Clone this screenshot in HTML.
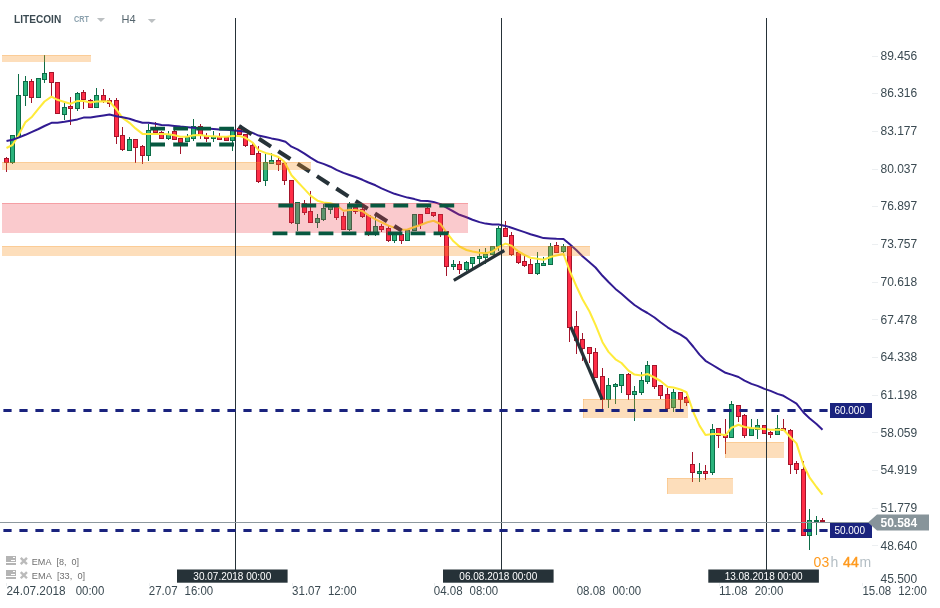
<!DOCTYPE html><html><head><meta charset="utf-8"><title>LITECOIN H4</title>
<style>html,body{margin:0;padding:0;background:#fff}body{width:940px;height:608px;overflow:hidden;font-family:"Liberation Sans",sans-serif}svg{display:block}text{font-family:"Liberation Sans",sans-serif}</style></head><body><div style="will-change:transform;width:940px;height:608px">
<svg width="940" height="608" viewBox="0 0 940 608">
<rect width="940" height="608" fill="#fff"/>
<g shape-rendering="crispEdges">
<rect x="6.0" y="157" width="1" height="15" fill="#a3152b"/>
<rect x="4.0" y="158" width="5" height="5" fill="#a3152b"/>
<rect x="5.0" y="159" width="3" height="3" fill="#ff2d47"/>
<rect x="12.0" y="135" width="1" height="29" fill="#0d6d47"/>
<rect x="10.0" y="135" width="5" height="28" fill="#0d6d47"/>
<rect x="11.0" y="136" width="3" height="26" fill="#2bb37c"/>
<rect x="18.0" y="74" width="1" height="63" fill="#0d6d47"/>
<rect x="16.0" y="95" width="5" height="42" fill="#0d6d47"/>
<rect x="17.0" y="96" width="3" height="40" fill="#2bb37c"/>
<rect x="25.0" y="76" width="1" height="30" fill="#0d6d47"/>
<rect x="23.0" y="81" width="5" height="15" fill="#0d6d47"/>
<rect x="24.0" y="82" width="3" height="13" fill="#2bb37c"/>
<rect x="31.0" y="79" width="1" height="24" fill="#a3152b"/>
<rect x="29.0" y="81" width="5" height="17" fill="#a3152b"/>
<rect x="30.0" y="82" width="3" height="15" fill="#ff2d47"/>
<rect x="38.0" y="78" width="1" height="20" fill="#0d6d47"/>
<rect x="36.0" y="78" width="5" height="20" fill="#0d6d47"/>
<rect x="37.0" y="79" width="3" height="18" fill="#2bb37c"/>
<rect x="44.0" y="55" width="1" height="28" fill="#0d6d47"/>
<rect x="42.0" y="73" width="5" height="7" fill="#0d6d47"/>
<rect x="43.0" y="74" width="3" height="5" fill="#2bb37c"/>
<rect x="51.0" y="72" width="1" height="24" fill="#a3152b"/>
<rect x="49.0" y="72" width="5" height="11" fill="#a3152b"/>
<rect x="50.0" y="73" width="3" height="9" fill="#ff2d47"/>
<rect x="57.0" y="82" width="1" height="32" fill="#a3152b"/>
<rect x="55.0" y="82" width="5" height="32" fill="#a3152b"/>
<rect x="56.0" y="83" width="3" height="30" fill="#ff2d47"/>
<rect x="64.0" y="103" width="1" height="17" fill="#0d6d47"/>
<rect x="62.0" y="107" width="5" height="8" fill="#0d6d47"/>
<rect x="63.0" y="108" width="3" height="6" fill="#2bb37c"/>
<rect x="70.0" y="97" width="1" height="28" fill="#a3152b"/>
<rect x="68.0" y="106" width="5" height="3" fill="#a3152b"/>
<rect x="69.0" y="107" width="3" height="1" fill="#ff2d47"/>
<rect x="77.0" y="92" width="1" height="19" fill="#0d6d47"/>
<rect x="75.0" y="93" width="5" height="16" fill="#0d6d47"/>
<rect x="76.0" y="94" width="3" height="14" fill="#2bb37c"/>
<rect x="83.0" y="90" width="1" height="19" fill="#a3152b"/>
<rect x="81.0" y="92" width="5" height="8" fill="#a3152b"/>
<rect x="82.0" y="93" width="3" height="6" fill="#ff2d47"/>
<rect x="90.0" y="99" width="1" height="9" fill="#a3152b"/>
<rect x="88.0" y="100" width="5" height="8" fill="#a3152b"/>
<rect x="89.0" y="101" width="3" height="6" fill="#ff2d47"/>
<rect x="96.0" y="88" width="1" height="20" fill="#0d6d47"/>
<rect x="94.0" y="95" width="5" height="13" fill="#0d6d47"/>
<rect x="95.0" y="96" width="3" height="11" fill="#2bb37c"/>
<rect x="103.0" y="89" width="1" height="14" fill="#a3152b"/>
<rect x="101.0" y="95" width="5" height="6" fill="#a3152b"/>
<rect x="102.0" y="96" width="3" height="4" fill="#ff2d47"/>
<rect x="109.0" y="98" width="1" height="9" fill="#a3152b"/>
<rect x="107.0" y="100" width="5" height="4" fill="#a3152b"/>
<rect x="108.0" y="101" width="3" height="2" fill="#ff2d47"/>
<rect x="116.0" y="98" width="1" height="46" fill="#a3152b"/>
<rect x="114.0" y="100" width="5" height="37" fill="#a3152b"/>
<rect x="115.0" y="101" width="3" height="35" fill="#ff2d47"/>
<rect x="122.0" y="127" width="1" height="24" fill="#a3152b"/>
<rect x="120.0" y="135" width="5" height="15" fill="#a3152b"/>
<rect x="121.0" y="136" width="3" height="13" fill="#ff2d47"/>
<rect x="129.0" y="137" width="1" height="14" fill="#0d6d47"/>
<rect x="127.0" y="139" width="5" height="12" fill="#0d6d47"/>
<rect x="128.0" y="140" width="3" height="10" fill="#2bb37c"/>
<rect x="135.0" y="139" width="1" height="24" fill="#a3152b"/>
<rect x="133.0" y="139" width="5" height="9" fill="#a3152b"/>
<rect x="134.0" y="140" width="3" height="7" fill="#ff2d47"/>
<rect x="142.0" y="145" width="1" height="19" fill="#a3152b"/>
<rect x="140.0" y="146" width="5" height="10" fill="#a3152b"/>
<rect x="141.0" y="147" width="3" height="8" fill="#ff2d47"/>
<rect x="148.0" y="124" width="1" height="37" fill="#0d6d47"/>
<rect x="146.0" y="130" width="5" height="26" fill="#0d6d47"/>
<rect x="147.0" y="131" width="3" height="24" fill="#2bb37c"/>
<rect x="155.0" y="122" width="1" height="11" fill="#a3152b"/>
<rect x="153.0" y="127" width="5" height="6" fill="#a3152b"/>
<rect x="154.0" y="128" width="3" height="4" fill="#ff2d47"/>
<rect x="161.0" y="131" width="1" height="8" fill="#a3152b"/>
<rect x="159.0" y="132" width="5" height="7" fill="#a3152b"/>
<rect x="160.0" y="133" width="3" height="5" fill="#ff2d47"/>
<rect x="168.0" y="131" width="1" height="9" fill="#0d6d47"/>
<rect x="166.0" y="134" width="5" height="5" fill="#0d6d47"/>
<rect x="167.0" y="135" width="3" height="3" fill="#2bb37c"/>
<rect x="174.0" y="130" width="1" height="10" fill="#a3152b"/>
<rect x="172.0" y="131" width="5" height="9" fill="#a3152b"/>
<rect x="173.0" y="132" width="3" height="7" fill="#ff2d47"/>
<rect x="180.0" y="138" width="1" height="16" fill="#a3152b"/>
<rect x="178.0" y="138" width="5" height="5" fill="#a3152b"/>
<rect x="179.0" y="139" width="3" height="3" fill="#ff2d47"/>
<rect x="187.0" y="134" width="1" height="8" fill="#0d6d47"/>
<rect x="185.0" y="137" width="5" height="5" fill="#0d6d47"/>
<rect x="186.0" y="138" width="3" height="3" fill="#2bb37c"/>
<rect x="193.0" y="119" width="1" height="22" fill="#0d6d47"/>
<rect x="191.0" y="126" width="5" height="13" fill="#0d6d47"/>
<rect x="192.0" y="127" width="3" height="11" fill="#2bb37c"/>
<rect x="200.0" y="124" width="1" height="15" fill="#a3152b"/>
<rect x="198.0" y="126" width="5" height="9" fill="#a3152b"/>
<rect x="199.0" y="127" width="3" height="7" fill="#ff2d47"/>
<rect x="206.0" y="133" width="1" height="9" fill="#a3152b"/>
<rect x="204.0" y="136" width="5" height="3" fill="#a3152b"/>
<rect x="205.0" y="137" width="3" height="1" fill="#ff2d47"/>
<rect x="213.0" y="131" width="1" height="11" fill="#0d6d47"/>
<rect x="211.0" y="136" width="5" height="3" fill="#0d6d47"/>
<rect x="212.0" y="137" width="3" height="1" fill="#2bb37c"/>
<rect x="219.0" y="133" width="1" height="7" fill="#a3152b"/>
<rect x="217.0" y="136" width="5" height="4" fill="#a3152b"/>
<rect x="218.0" y="137" width="3" height="2" fill="#ff2d47"/>
<rect x="226.0" y="136" width="1" height="5" fill="#a3152b"/>
<rect x="224.0" y="137" width="5" height="4" fill="#a3152b"/>
<rect x="225.0" y="138" width="3" height="2" fill="#ff2d47"/>
<rect x="232.0" y="130" width="1" height="21" fill="#0d6d47"/>
<rect x="230.0" y="130" width="5" height="11" fill="#0d6d47"/>
<rect x="231.0" y="131" width="3" height="9" fill="#2bb37c"/>
<rect x="239.0" y="128" width="1" height="7" fill="#a3152b"/>
<rect x="237.0" y="128" width="5" height="7" fill="#a3152b"/>
<rect x="238.0" y="129" width="3" height="5" fill="#ff2d47"/>
<rect x="245.0" y="134" width="1" height="13" fill="#a3152b"/>
<rect x="243.0" y="134" width="5" height="12" fill="#a3152b"/>
<rect x="244.0" y="135" width="3" height="10" fill="#ff2d47"/>
<rect x="252.0" y="143" width="1" height="12" fill="#a3152b"/>
<rect x="250.0" y="145" width="5" height="10" fill="#a3152b"/>
<rect x="251.0" y="146" width="3" height="8" fill="#ff2d47"/>
<rect x="258.0" y="146" width="1" height="37" fill="#a3152b"/>
<rect x="256.0" y="153" width="5" height="29" fill="#a3152b"/>
<rect x="257.0" y="154" width="3" height="27" fill="#ff2d47"/>
<rect x="265.0" y="154" width="1" height="32" fill="#0d6d47"/>
<rect x="263.0" y="162" width="5" height="19" fill="#0d6d47"/>
<rect x="264.0" y="163" width="3" height="17" fill="#2bb37c"/>
<rect x="271.0" y="153" width="1" height="11" fill="#0d6d47"/>
<rect x="269.0" y="160" width="5" height="4" fill="#0d6d47"/>
<rect x="270.0" y="161" width="3" height="2" fill="#2bb37c"/>
<rect x="278.0" y="158" width="1" height="13" fill="#a3152b"/>
<rect x="276.0" y="160" width="5" height="5" fill="#a3152b"/>
<rect x="277.0" y="161" width="3" height="3" fill="#ff2d47"/>
<rect x="284.0" y="163" width="1" height="22" fill="#a3152b"/>
<rect x="282.0" y="163" width="5" height="18" fill="#a3152b"/>
<rect x="283.0" y="164" width="3" height="16" fill="#ff2d47"/>
<rect x="291.0" y="180" width="1" height="44" fill="#a3152b"/>
<rect x="289.0" y="180" width="5" height="43" fill="#a3152b"/>
<rect x="290.0" y="181" width="3" height="41" fill="#ff2d47"/>
<rect x="297.0" y="202" width="1" height="29" fill="#0d6d47"/>
<rect x="295.0" y="202" width="5" height="22" fill="#0d6d47"/>
<rect x="296.0" y="203" width="3" height="20" fill="#2bb37c"/>
<rect x="304.0" y="200" width="1" height="15" fill="#a3152b"/>
<rect x="302.0" y="203" width="5" height="10" fill="#a3152b"/>
<rect x="303.0" y="204" width="3" height="8" fill="#ff2d47"/>
<rect x="310.0" y="191" width="1" height="32" fill="#a3152b"/>
<rect x="308.0" y="211" width="5" height="12" fill="#a3152b"/>
<rect x="309.0" y="212" width="3" height="10" fill="#ff2d47"/>
<rect x="317.0" y="214" width="1" height="14" fill="#0d6d47"/>
<rect x="315.0" y="218" width="5" height="5" fill="#0d6d47"/>
<rect x="316.0" y="219" width="3" height="3" fill="#2bb37c"/>
<rect x="323.0" y="204" width="1" height="17" fill="#0d6d47"/>
<rect x="321.0" y="208" width="5" height="12" fill="#0d6d47"/>
<rect x="322.0" y="209" width="3" height="10" fill="#2bb37c"/>
<rect x="330.0" y="205" width="1" height="9" fill="#0d6d47"/>
<rect x="328.0" y="205" width="5" height="5" fill="#0d6d47"/>
<rect x="329.0" y="206" width="3" height="3" fill="#2bb37c"/>
<rect x="336.0" y="204" width="1" height="16" fill="#a3152b"/>
<rect x="334.0" y="205" width="5" height="13" fill="#a3152b"/>
<rect x="335.0" y="206" width="3" height="11" fill="#ff2d47"/>
<rect x="343.0" y="212" width="1" height="18" fill="#a3152b"/>
<rect x="341.0" y="216" width="5" height="14" fill="#a3152b"/>
<rect x="342.0" y="217" width="3" height="12" fill="#ff2d47"/>
<rect x="349.0" y="202" width="1" height="29" fill="#0d6d47"/>
<rect x="347.0" y="204" width="5" height="26" fill="#0d6d47"/>
<rect x="348.0" y="205" width="3" height="24" fill="#2bb37c"/>
<rect x="355.0" y="206" width="1" height="8" fill="#a3152b"/>
<rect x="353.0" y="207" width="5" height="5" fill="#a3152b"/>
<rect x="354.0" y="208" width="3" height="3" fill="#ff2d47"/>
<rect x="362.0" y="207" width="1" height="11" fill="#a3152b"/>
<rect x="360.0" y="209" width="5" height="8" fill="#a3152b"/>
<rect x="361.0" y="210" width="3" height="6" fill="#ff2d47"/>
<rect x="368.0" y="215" width="1" height="21" fill="#a3152b"/>
<rect x="366.0" y="215" width="5" height="18" fill="#a3152b"/>
<rect x="367.0" y="216" width="3" height="16" fill="#ff2d47"/>
<rect x="375.0" y="216" width="1" height="20" fill="#0d6d47"/>
<rect x="373.0" y="226" width="5" height="7" fill="#0d6d47"/>
<rect x="374.0" y="227" width="3" height="5" fill="#2bb37c"/>
<rect x="381.0" y="224" width="1" height="8" fill="#a3152b"/>
<rect x="379.0" y="226" width="5" height="4" fill="#a3152b"/>
<rect x="380.0" y="227" width="3" height="2" fill="#ff2d47"/>
<rect x="388.0" y="226" width="1" height="16" fill="#a3152b"/>
<rect x="386.0" y="228" width="5" height="13" fill="#a3152b"/>
<rect x="387.0" y="229" width="3" height="11" fill="#ff2d47"/>
<rect x="394.0" y="234" width="1" height="9" fill="#0d6d47"/>
<rect x="392.0" y="234" width="5" height="7" fill="#0d6d47"/>
<rect x="393.0" y="235" width="3" height="5" fill="#2bb37c"/>
<rect x="401.0" y="234" width="1" height="10" fill="#a3152b"/>
<rect x="399.0" y="234" width="5" height="7" fill="#a3152b"/>
<rect x="400.0" y="235" width="3" height="5" fill="#ff2d47"/>
<rect x="407.0" y="230" width="1" height="11" fill="#0d6d47"/>
<rect x="405.0" y="230" width="5" height="11" fill="#0d6d47"/>
<rect x="406.0" y="231" width="3" height="9" fill="#2bb37c"/>
<rect x="414.0" y="214" width="1" height="17" fill="#0d6d47"/>
<rect x="412.0" y="214" width="5" height="17" fill="#0d6d47"/>
<rect x="413.0" y="215" width="3" height="15" fill="#2bb37c"/>
<rect x="420.0" y="214" width="1" height="15" fill="#a3152b"/>
<rect x="418.0" y="214" width="5" height="11" fill="#a3152b"/>
<rect x="419.0" y="215" width="3" height="9" fill="#ff2d47"/>
<rect x="427.0" y="207" width="1" height="7" fill="#a3152b"/>
<rect x="425.0" y="208" width="5" height="6" fill="#a3152b"/>
<rect x="426.0" y="209" width="3" height="4" fill="#ff2d47"/>
<rect x="433.0" y="212" width="1" height="5" fill="#a3152b"/>
<rect x="431.0" y="212" width="5" height="4" fill="#a3152b"/>
<rect x="432.0" y="213" width="3" height="2" fill="#ff2d47"/>
<rect x="440.0" y="214" width="1" height="23" fill="#a3152b"/>
<rect x="438.0" y="214" width="5" height="20" fill="#a3152b"/>
<rect x="439.0" y="215" width="3" height="18" fill="#ff2d47"/>
<rect x="446.0" y="231" width="1" height="45" fill="#a3152b"/>
<rect x="444.0" y="231" width="5" height="36" fill="#a3152b"/>
<rect x="445.0" y="232" width="3" height="34" fill="#ff2d47"/>
<rect x="453.0" y="260" width="1" height="10" fill="#0d6d47"/>
<rect x="451.0" y="264" width="5" height="3" fill="#0d6d47"/>
<rect x="452.0" y="265" width="3" height="1" fill="#2bb37c"/>
<rect x="459.0" y="261" width="1" height="13" fill="#a3152b"/>
<rect x="457.0" y="264" width="5" height="6" fill="#a3152b"/>
<rect x="458.0" y="265" width="3" height="4" fill="#ff2d47"/>
<rect x="466.0" y="261" width="1" height="10" fill="#0d6d47"/>
<rect x="464.0" y="262" width="5" height="8" fill="#0d6d47"/>
<rect x="465.0" y="263" width="3" height="6" fill="#2bb37c"/>
<rect x="472.0" y="257" width="1" height="11" fill="#0d6d47"/>
<rect x="470.0" y="257" width="5" height="7" fill="#0d6d47"/>
<rect x="471.0" y="258" width="3" height="5" fill="#2bb37c"/>
<rect x="479.0" y="249" width="1" height="15" fill="#0d6d47"/>
<rect x="477.0" y="256" width="5" height="3" fill="#0d6d47"/>
<rect x="478.0" y="257" width="3" height="1" fill="#2bb37c"/>
<rect x="485.0" y="248" width="1" height="16" fill="#0d6d47"/>
<rect x="483.0" y="254" width="5" height="4" fill="#0d6d47"/>
<rect x="484.0" y="255" width="3" height="2" fill="#2bb37c"/>
<rect x="492.0" y="246" width="1" height="9" fill="#0d6d47"/>
<rect x="490.0" y="246" width="5" height="9" fill="#0d6d47"/>
<rect x="491.0" y="247" width="3" height="7" fill="#2bb37c"/>
<rect x="498.0" y="226" width="1" height="25" fill="#0d6d47"/>
<rect x="496.0" y="228" width="5" height="19" fill="#0d6d47"/>
<rect x="497.0" y="229" width="3" height="17" fill="#2bb37c"/>
<rect x="505.0" y="221" width="1" height="16" fill="#a3152b"/>
<rect x="503.0" y="228" width="5" height="9" fill="#a3152b"/>
<rect x="504.0" y="229" width="3" height="7" fill="#ff2d47"/>
<rect x="511.0" y="232" width="1" height="24" fill="#a3152b"/>
<rect x="509.0" y="235" width="5" height="20" fill="#a3152b"/>
<rect x="510.0" y="236" width="3" height="18" fill="#ff2d47"/>
<rect x="518.0" y="252" width="1" height="12" fill="#a3152b"/>
<rect x="516.0" y="252" width="5" height="11" fill="#a3152b"/>
<rect x="517.0" y="253" width="3" height="9" fill="#ff2d47"/>
<rect x="524.0" y="256" width="1" height="11" fill="#a3152b"/>
<rect x="522.0" y="261" width="5" height="5" fill="#a3152b"/>
<rect x="523.0" y="262" width="3" height="3" fill="#ff2d47"/>
<rect x="530.0" y="259" width="1" height="15" fill="#a3152b"/>
<rect x="528.0" y="264" width="5" height="10" fill="#a3152b"/>
<rect x="529.0" y="265" width="3" height="8" fill="#ff2d47"/>
<rect x="537.0" y="252" width="1" height="23" fill="#0d6d47"/>
<rect x="535.0" y="263" width="5" height="11" fill="#0d6d47"/>
<rect x="536.0" y="264" width="3" height="9" fill="#2bb37c"/>
<rect x="543.0" y="257" width="1" height="9" fill="#0d6d47"/>
<rect x="541.0" y="263" width="5" height="3" fill="#0d6d47"/>
<rect x="542.0" y="264" width="3" height="1" fill="#2bb37c"/>
<rect x="550.0" y="243" width="1" height="22" fill="#0d6d47"/>
<rect x="548.0" y="246" width="5" height="19" fill="#0d6d47"/>
<rect x="549.0" y="247" width="3" height="17" fill="#2bb37c"/>
<rect x="556.0" y="242" width="1" height="11" fill="#a3152b"/>
<rect x="554.0" y="245" width="5" height="8" fill="#a3152b"/>
<rect x="555.0" y="246" width="3" height="6" fill="#ff2d47"/>
<rect x="563.0" y="244" width="1" height="9" fill="#0d6d47"/>
<rect x="561.0" y="246" width="5" height="6" fill="#0d6d47"/>
<rect x="562.0" y="247" width="3" height="4" fill="#2bb37c"/>
<rect x="569.0" y="246" width="1" height="96" fill="#a3152b"/>
<rect x="567.0" y="246" width="5" height="82" fill="#a3152b"/>
<rect x="568.0" y="247" width="3" height="80" fill="#ff2d47"/>
<rect x="576.0" y="311" width="1" height="43" fill="#a3152b"/>
<rect x="574.0" y="326" width="5" height="15" fill="#a3152b"/>
<rect x="575.0" y="327" width="3" height="13" fill="#ff2d47"/>
<rect x="582.0" y="333" width="1" height="28" fill="#a3152b"/>
<rect x="580.0" y="339" width="5" height="10" fill="#a3152b"/>
<rect x="581.0" y="340" width="3" height="8" fill="#ff2d47"/>
<rect x="589.0" y="347" width="1" height="16" fill="#a3152b"/>
<rect x="587.0" y="347" width="5" height="7" fill="#a3152b"/>
<rect x="588.0" y="348" width="3" height="5" fill="#ff2d47"/>
<rect x="595.0" y="348" width="1" height="30" fill="#a3152b"/>
<rect x="593.0" y="352" width="5" height="26" fill="#a3152b"/>
<rect x="594.0" y="353" width="3" height="24" fill="#ff2d47"/>
<rect x="602.0" y="368" width="1" height="42" fill="#a3152b"/>
<rect x="600.0" y="376" width="5" height="24" fill="#a3152b"/>
<rect x="601.0" y="377" width="3" height="22" fill="#ff2d47"/>
<rect x="608.0" y="378" width="1" height="30" fill="#0d6d47"/>
<rect x="606.0" y="385" width="5" height="15" fill="#0d6d47"/>
<rect x="607.0" y="386" width="3" height="13" fill="#2bb37c"/>
<rect x="615.0" y="383" width="1" height="21" fill="#0d6d47"/>
<rect x="613.0" y="384" width="5" height="3" fill="#0d6d47"/>
<rect x="614.0" y="385" width="3" height="1" fill="#2bb37c"/>
<rect x="621.0" y="374" width="1" height="19" fill="#0d6d47"/>
<rect x="619.0" y="374" width="5" height="12" fill="#0d6d47"/>
<rect x="620.0" y="375" width="3" height="10" fill="#2bb37c"/>
<rect x="628.0" y="373" width="1" height="27" fill="#a3152b"/>
<rect x="626.0" y="374" width="5" height="21" fill="#a3152b"/>
<rect x="627.0" y="375" width="3" height="19" fill="#ff2d47"/>
<rect x="634.0" y="386" width="1" height="35" fill="#0d6d47"/>
<rect x="632.0" y="391" width="5" height="4" fill="#0d6d47"/>
<rect x="633.0" y="392" width="3" height="2" fill="#2bb37c"/>
<rect x="641.0" y="372" width="1" height="23" fill="#0d6d47"/>
<rect x="639.0" y="380" width="5" height="13" fill="#0d6d47"/>
<rect x="640.0" y="381" width="3" height="11" fill="#2bb37c"/>
<rect x="647.0" y="361" width="1" height="23" fill="#0d6d47"/>
<rect x="645.0" y="365" width="5" height="17" fill="#0d6d47"/>
<rect x="646.0" y="366" width="3" height="15" fill="#2bb37c"/>
<rect x="654.0" y="365" width="1" height="24" fill="#a3152b"/>
<rect x="652.0" y="365" width="5" height="22" fill="#a3152b"/>
<rect x="653.0" y="366" width="3" height="20" fill="#ff2d47"/>
<rect x="660.0" y="385" width="1" height="14" fill="#a3152b"/>
<rect x="658.0" y="385" width="5" height="11" fill="#a3152b"/>
<rect x="659.0" y="386" width="3" height="9" fill="#ff2d47"/>
<rect x="667.0" y="388" width="1" height="24" fill="#a3152b"/>
<rect x="665.0" y="394" width="5" height="15" fill="#a3152b"/>
<rect x="666.0" y="395" width="3" height="13" fill="#ff2d47"/>
<rect x="673.0" y="389" width="1" height="23" fill="#0d6d47"/>
<rect x="671.0" y="392" width="5" height="16" fill="#0d6d47"/>
<rect x="672.0" y="393" width="3" height="14" fill="#2bb37c"/>
<rect x="680.0" y="392" width="1" height="18" fill="#a3152b"/>
<rect x="678.0" y="392" width="5" height="8" fill="#a3152b"/>
<rect x="679.0" y="393" width="3" height="6" fill="#ff2d47"/>
<rect x="686.0" y="396" width="1" height="10" fill="#a3152b"/>
<rect x="684.0" y="397" width="5" height="6" fill="#a3152b"/>
<rect x="685.0" y="398" width="3" height="4" fill="#ff2d47"/>
<rect x="692.0" y="452" width="1" height="30" fill="#a3152b"/>
<rect x="690.0" y="464" width="5" height="9" fill="#a3152b"/>
<rect x="691.0" y="465" width="3" height="7" fill="#ff2d47"/>
<rect x="699.0" y="463" width="1" height="19" fill="#0d6d47"/>
<rect x="697.0" y="471" width="5" height="3" fill="#0d6d47"/>
<rect x="698.0" y="472" width="3" height="1" fill="#2bb37c"/>
<rect x="705.0" y="465" width="1" height="15" fill="#a3152b"/>
<rect x="703.0" y="471" width="5" height="3" fill="#a3152b"/>
<rect x="704.0" y="472" width="3" height="1" fill="#ff2d47"/>
<rect x="712.0" y="424" width="1" height="51" fill="#0d6d47"/>
<rect x="710.0" y="429" width="5" height="44" fill="#0d6d47"/>
<rect x="711.0" y="430" width="3" height="42" fill="#2bb37c"/>
<rect x="718.0" y="428" width="1" height="20" fill="#a3152b"/>
<rect x="716.0" y="428" width="5" height="8" fill="#a3152b"/>
<rect x="717.0" y="429" width="3" height="6" fill="#ff2d47"/>
<rect x="725.0" y="419" width="1" height="35" fill="#a3152b"/>
<rect x="723.0" y="435" width="5" height="3" fill="#a3152b"/>
<rect x="724.0" y="436" width="3" height="1" fill="#ff2d47"/>
<rect x="731.0" y="401" width="1" height="37" fill="#0d6d47"/>
<rect x="729.0" y="404" width="5" height="34" fill="#0d6d47"/>
<rect x="730.0" y="405" width="3" height="32" fill="#2bb37c"/>
<rect x="738.0" y="405" width="1" height="17" fill="#a3152b"/>
<rect x="736.0" y="405" width="5" height="12" fill="#a3152b"/>
<rect x="737.0" y="406" width="3" height="10" fill="#ff2d47"/>
<rect x="744.0" y="414" width="1" height="24" fill="#a3152b"/>
<rect x="742.0" y="415" width="5" height="21" fill="#a3152b"/>
<rect x="743.0" y="416" width="3" height="19" fill="#ff2d47"/>
<rect x="751.0" y="419" width="1" height="17" fill="#0d6d47"/>
<rect x="749.0" y="428" width="5" height="8" fill="#0d6d47"/>
<rect x="750.0" y="429" width="3" height="6" fill="#2bb37c"/>
<rect x="757.0" y="419" width="1" height="20" fill="#0d6d47"/>
<rect x="755.0" y="425" width="5" height="5" fill="#0d6d47"/>
<rect x="756.0" y="426" width="3" height="3" fill="#2bb37c"/>
<rect x="764.0" y="425" width="1" height="9" fill="#a3152b"/>
<rect x="762.0" y="425" width="5" height="9" fill="#a3152b"/>
<rect x="763.0" y="426" width="3" height="7" fill="#ff2d47"/>
<rect x="770.0" y="431" width="1" height="7" fill="#a3152b"/>
<rect x="768.0" y="432" width="5" height="3" fill="#a3152b"/>
<rect x="769.0" y="433" width="3" height="1" fill="#ff2d47"/>
<rect x="777.0" y="415" width="1" height="20" fill="#0d6d47"/>
<rect x="775.0" y="428" width="5" height="7" fill="#0d6d47"/>
<rect x="776.0" y="429" width="3" height="5" fill="#2bb37c"/>
<rect x="783.0" y="419" width="1" height="12" fill="#a3152b"/>
<rect x="781.0" y="428" width="5" height="3" fill="#a3152b"/>
<rect x="782.0" y="429" width="3" height="1" fill="#ff2d47"/>
<rect x="790.0" y="429" width="1" height="45" fill="#a3152b"/>
<rect x="788.0" y="430" width="5" height="35" fill="#a3152b"/>
<rect x="789.0" y="431" width="3" height="33" fill="#ff2d47"/>
<rect x="796.0" y="461" width="1" height="13" fill="#a3152b"/>
<rect x="794.0" y="463" width="5" height="7" fill="#a3152b"/>
<rect x="795.0" y="464" width="3" height="5" fill="#ff2d47"/>
<rect x="803.0" y="461" width="1" height="75" fill="#a3152b"/>
<rect x="801.0" y="469" width="5" height="67" fill="#a3152b"/>
<rect x="802.0" y="470" width="3" height="65" fill="#ff2d47"/>
<rect x="809.0" y="509" width="1" height="41" fill="#0d6d47"/>
<rect x="807.0" y="520" width="5" height="16" fill="#0d6d47"/>
<rect x="808.0" y="521" width="3" height="14" fill="#2bb37c"/>
<rect x="816.0" y="516" width="1" height="19" fill="#0d6d47"/>
<rect x="814.0" y="520" width="5" height="2" fill="#0d6d47"/>
<rect x="822.0" y="518" width="1" height="4" fill="#a3152b"/>
<rect x="820.0" y="520" width="5" height="2" fill="#a3152b"/>
</g>
<polyline fill="none" stroke="#ffeb3b" stroke-width="2.05" stroke-linejoin="round" points="6.5,148 12.5,145 18.5,135.3 25.5,122.1 31.5,117.3 38.5,108.6 44.5,101.5 51.5,96.7 57.5,99.8 64.5,101.9 70.5,103.7 77.5,100.9 83.5,100.9 90.5,102.6 96.5,101.5 103.5,101.2 109.5,101.5 116.5,109.5 122.5,117.8 129.5,122.8 135.5,128.4 142.5,133.9 148.5,133.9 155.5,133.9 161.5,133.9 168.5,134.2 174.5,135.3 180.5,136.7 187.5,136.7 193.5,135.3 200.5,135 206.5,136 213.5,136.2 219.5,136.7 226.5,136.7 232.5,136 239.5,136 245.5,137.8 252.5,142.5 258.5,150.1 265.5,152.9 271.5,154.5 278.5,157 284.5,161.9 291.5,175.2 297.5,181.8 304.5,189.1 310.5,195.6 317.5,200.7 323.5,202.5 330.5,203.2 336.5,205.3 343.5,210.8 349.5,210.1 355.5,209.9 362.5,211.1 368.5,215.3 375.5,219.4 381.5,222.2 388.5,225.6 394.5,227.7 401.5,229.8 407.5,229.5 414.5,227 420.5,225 427.5,222.2 433.5,220.8 440.5,224 446.5,232.5 453.5,241.3 459.5,246.5 466.5,250 472.5,251.4 479.5,252.8 485.5,253.2 492.5,251.5 498.5,247.1 505.5,243.6 511.5,245.7 518.5,251.5 524.5,255 530.5,257.7 537.5,258.7 543.5,259.8 550.5,257 556.5,255.6 563.5,254 569.5,270.4 576.5,286.5 582.5,299.3 589.5,311.5 595.5,324.9 602.5,342.2 608.5,351.9 615.5,359.3 621.5,363 628.5,370.6 634.5,374.6 641.5,375.5 647.5,374 654.5,377.5 660.5,381 667.5,386.7 673.5,387.6 680.5,389.5 686.5,392.3 693.5,412.5 699.5,425.6 705.5,435 712.5,433.9 718.5,433.9 725.5,435.3 731.5,427.7 738.5,424.7 744.5,427 751.5,428 757.5,428.4 764.5,429.1 770.5,429.8 777.5,429.8 783.5,429.8 790.5,437.2 796.5,443.4 803.5,465.3 809.5,477.3 816.5,487 822.5,494.7"/>
<polyline fill="none" stroke="#311b92" stroke-width="2.0" stroke-linejoin="round" points="6.5,140.9 12.5,139.8 18.5,137.6 25.5,134.8 31.5,132.1 38.5,129 44.5,126 51.5,122.8 57.5,122.8 64.5,121.8 70.5,120.7 77.5,119.4 83.5,117.6 90.5,117.6 96.5,116.6 103.5,115.5 109.5,114.5 116.5,116.2 122.5,117.3 129.5,118.7 135.5,120.7 142.5,122.8 148.5,122.8 155.5,123.8 161.5,124.9 168.5,125.2 174.5,125.9 180.5,126.6 187.5,127.2 193.5,127.7 200.5,128.1 206.5,128.6 213.5,129 219.5,129.5 226.5,129.7 232.5,130.2 239.5,130.9 245.5,131.7 252.5,132.8 258.5,135.6 265.5,137 271.5,138.4 278.5,139.7 285.5,141.8 291.5,146.7 297.5,149.4 304.5,153.6 310.5,157.7 317.5,161.9 323.5,163.9 330.5,166.7 336.5,169.8 343.5,172.9 349.5,175 355.5,177 362.5,179.8 368.5,182.5 375.5,185.3 381.5,188.3 388.5,191.3 394.5,193.8 401.5,195.9 407.5,197.6 414.5,199.1 420.5,200.7 427.5,201 433.5,201.9 440.5,204.2 446.5,207.7 453.5,211.5 459.5,214.8 466.5,217.3 472.5,219.7 479.5,222.1 485.5,223.6 492.5,224.5 498.5,224.5 505.5,225.9 511.5,227.7 518.5,230.1 524.5,232.1 530.5,234.2 537.5,236.3 543.5,238.1 550.5,238.5 556.5,238.8 563.5,238.9 569.5,244.1 576.5,250.2 582.5,256.3 589.5,262.3 595.5,267.5 602.5,275.8 608.5,282 615.5,288.9 621.5,293.8 628.5,299.9 634.5,305 641.5,309.7 647.5,313 654.5,317.5 660.5,322.3 667.5,327.3 673.5,331 680.5,334.7 686.5,338.7 693.5,347 699.5,354.6 705.5,360.8 712.5,365 718.5,368.7 725.5,372.8 731.5,374.6 738.5,377 744.5,380.6 751.5,383.9 757.5,385.9 764.5,388.9 770.5,390.9 777.5,393.9 783.5,395.8 790.5,400 796.5,403.6 803.5,412.5 809.5,418.2 816.5,424 822.5,429.8"/>
<path d="M240.4 126.9L401.6 230.65" fill="none" stroke="#263238" stroke-width="4.1" stroke-dasharray="14.4 8.6" stroke-dashoffset="1"/>
<path d="M238.9 125.93L241 127.28" fill="none" stroke="#263238" stroke-width="4.1"/>
<rect x="2" y="55" width="89" height="7" fill="rgba(247,147,30,0.30)" shape-rendering="crispEdges"/>
<rect x="2" y="55" width="89" height="1" fill="rgba(247,147,30,0.23)" shape-rendering="crispEdges"/>
<rect x="2" y="162" width="309" height="8" fill="rgba(247,147,30,0.30)" shape-rendering="crispEdges"/>
<rect x="2" y="162" width="309" height="1" fill="rgba(247,147,30,0.23)" shape-rendering="crispEdges"/>
<rect x="2" y="203" width="466" height="30" fill="rgba(235,60,70,0.27)" shape-rendering="crispEdges"/>
<rect x="2" y="203" width="466" height="1" fill="rgba(235,60,70,0.30)" shape-rendering="crispEdges"/>
<rect x="2" y="246" width="588" height="10" fill="rgba(247,147,30,0.30)" shape-rendering="crispEdges"/>
<rect x="2" y="246" width="588" height="1" fill="rgba(247,147,30,0.23)" shape-rendering="crispEdges"/>
<rect x="583" y="399" width="105" height="19" fill="rgba(247,147,30,0.30)" shape-rendering="crispEdges"/>
<rect x="583" y="399" width="105" height="1" fill="rgba(247,147,30,0.23)" shape-rendering="crispEdges"/>
<rect x="583" y="399" width="1" height="19" fill="rgba(247,147,30,0.23)" shape-rendering="crispEdges"/>
<rect x="725" y="442" width="59" height="16" fill="rgba(247,147,30,0.30)" shape-rendering="crispEdges"/>
<rect x="725" y="442" width="59" height="1" fill="rgba(247,147,30,0.23)" shape-rendering="crispEdges"/>
<rect x="725" y="442" width="1" height="16" fill="rgba(247,147,30,0.23)" shape-rendering="crispEdges"/>
<rect x="667" y="478" width="66" height="16" fill="rgba(247,147,30,0.30)" shape-rendering="crispEdges"/>
<rect x="667" y="478" width="66" height="1" fill="rgba(247,147,30,0.23)" shape-rendering="crispEdges"/>
<rect x="667" y="478" width="1" height="16" fill="rgba(247,147,30,0.23)" shape-rendering="crispEdges"/>
<path d="M453.8 280.3L504.3 250.5" fill="none" stroke="#263238" stroke-width="3.2"/>
<path d="M570.9 327L602.2 399.5" fill="none" stroke="#263238" stroke-width="3.2"/>
<g fill="none" stroke="#075840" stroke-width="3.8" stroke-dasharray="14.8 8.2">
<path d="M150.2 128.6H234"/><path d="M150.2 144.5H234"/>
<path d="M278.4 205.5H455"/><path d="M272.6 233.4H449"/>
</g>
<rect x="235" y="18" width="1" height="552" fill="#263238" shape-rendering="crispEdges"/>
<rect x="501" y="18" width="1" height="552" fill="#263238" shape-rendering="crispEdges"/>
<rect x="766" y="18" width="1" height="552" fill="#263238" shape-rendering="crispEdges"/>
<rect x="0" y="522" width="872" height="1" fill="#8d989e" shape-rendering="crispEdges"/>
<g fill="none" stroke="#1a237e" stroke-width="3" stroke-dasharray="8.2 7.8">
<path d="M3.4 410.5H830"/><path d="M3.4 530.5H830"/></g>
<rect x="830" y="403" width="42" height="15" fill="#1a237e" shape-rendering="crispEdges"/>
<text x="834.4" y="413.8" font-size="10" fill="#fff">60.000</text>
<rect x="830" y="523" width="42" height="15" fill="#1a237e" shape-rendering="crispEdges"/>
<text x="834.4" y="533.8" font-size="10" fill="#fff">50.000</text>
<path d="M868 522.5L877 514.5H929V530.5H877Z" fill="#87949a"/>
<text x="880.5" y="527" font-size="12" font-weight="bold" fill="#fff">50.584</text>
<rect x="872" y="56" width="6" height="1" fill="#eceff1" shape-rendering="crispEdges"/>
<text x="880.5" y="60" font-size="12" fill="#3b4a52">89.456</text>
<rect x="872" y="93" width="6" height="1" fill="#eceff1" shape-rendering="crispEdges"/>
<text x="880.5" y="97" font-size="12" fill="#3b4a52">86.316</text>
<rect x="872" y="131" width="6" height="1" fill="#eceff1" shape-rendering="crispEdges"/>
<text x="880.5" y="135" font-size="12" fill="#3b4a52">83.177</text>
<rect x="872" y="169" width="6" height="1" fill="#eceff1" shape-rendering="crispEdges"/>
<text x="880.5" y="173" font-size="12" fill="#3b4a52">80.037</text>
<rect x="872" y="206" width="6" height="1" fill="#eceff1" shape-rendering="crispEdges"/>
<text x="880.5" y="210" font-size="12" fill="#3b4a52">76.897</text>
<rect x="872" y="244" width="6" height="1" fill="#eceff1" shape-rendering="crispEdges"/>
<text x="880.5" y="248" font-size="12" fill="#3b4a52">73.757</text>
<rect x="872" y="282" width="6" height="1" fill="#eceff1" shape-rendering="crispEdges"/>
<text x="880.5" y="286" font-size="12" fill="#3b4a52">70.618</text>
<rect x="872" y="319" width="6" height="1" fill="#eceff1" shape-rendering="crispEdges"/>
<text x="880.5" y="324" font-size="12" fill="#3b4a52">67.478</text>
<rect x="872" y="357" width="6" height="1" fill="#eceff1" shape-rendering="crispEdges"/>
<text x="880.5" y="361" font-size="12" fill="#3b4a52">64.338</text>
<rect x="872" y="395" width="6" height="1" fill="#eceff1" shape-rendering="crispEdges"/>
<text x="880.5" y="399" font-size="12" fill="#3b4a52">61.198</text>
<rect x="872" y="432" width="6" height="1" fill="#eceff1" shape-rendering="crispEdges"/>
<text x="880.5" y="437" font-size="12" fill="#3b4a52">58.059</text>
<rect x="872" y="470" width="6" height="1" fill="#eceff1" shape-rendering="crispEdges"/>
<text x="880.5" y="474" font-size="12" fill="#3b4a52">54.919</text>
<rect x="872" y="508" width="6" height="1" fill="#eceff1" shape-rendering="crispEdges"/>
<text x="880.5" y="512" font-size="12" fill="#3b4a52">51.779</text>
<rect x="872" y="545" width="6" height="1" fill="#eceff1" shape-rendering="crispEdges"/>
<text x="880.5" y="550" font-size="12" fill="#3b4a52">48.640</text>
<text x="880.5" y="583" font-size="12" fill="#3b4a52">45.500</text>
<rect x="6" y="583" width="1" height="3" fill="#eceff1" shape-rendering="crispEdges"/>
<text x="6.5" y="595" font-size="12" fill="#3b4a52" textLength="59.1" lengthAdjust="spacingAndGlyphs">24.07.2018</text>
<text x="75.7" y="595" font-size="12" fill="#3b4a52" textLength="28.6" lengthAdjust="spacingAndGlyphs">00:00</text>
<rect x="149" y="583" width="1" height="3" fill="#eceff1" shape-rendering="crispEdges"/>
<text x="148.8" y="595" font-size="12" fill="#3b4a52" textLength="28.8" lengthAdjust="spacingAndGlyphs">27.07</text>
<text x="184.6" y="595" font-size="12" fill="#3b4a52" textLength="28.6" lengthAdjust="spacingAndGlyphs">16:00</text>
<rect x="292" y="583" width="1" height="3" fill="#eceff1" shape-rendering="crispEdges"/>
<text x="292.1" y="595" font-size="12" fill="#3b4a52" textLength="28.8" lengthAdjust="spacingAndGlyphs">31.07</text>
<text x="327.9" y="595" font-size="12" fill="#3b4a52" textLength="28.6" lengthAdjust="spacingAndGlyphs">12:00</text>
<rect x="434" y="583" width="1" height="3" fill="#eceff1" shape-rendering="crispEdges"/>
<text x="433.8" y="595" font-size="12" fill="#3b4a52" textLength="28.8" lengthAdjust="spacingAndGlyphs">04.08</text>
<text x="469.6" y="595" font-size="12" fill="#3b4a52" textLength="28.6" lengthAdjust="spacingAndGlyphs">08:00</text>
<rect x="577" y="583" width="1" height="3" fill="#eceff1" shape-rendering="crispEdges"/>
<text x="576.7" y="595" font-size="12" fill="#3b4a52" textLength="28.8" lengthAdjust="spacingAndGlyphs">08.08</text>
<text x="612.5" y="595" font-size="12" fill="#3b4a52" textLength="28.6" lengthAdjust="spacingAndGlyphs">00:00</text>
<rect x="719" y="583" width="1" height="3" fill="#eceff1" shape-rendering="crispEdges"/>
<text x="718.9" y="595" font-size="12" fill="#3b4a52" textLength="28.8" lengthAdjust="spacingAndGlyphs">11.08</text>
<text x="754.7" y="595" font-size="12" fill="#3b4a52" textLength="28.6" lengthAdjust="spacingAndGlyphs">20:00</text>
<rect x="862" y="583" width="1" height="3" fill="#eceff1" shape-rendering="crispEdges"/>
<text x="862.4" y="595" font-size="12" fill="#3b4a52" textLength="28.8" lengthAdjust="spacingAndGlyphs">15.08</text>
<text x="898.2" y="595" font-size="12" fill="#3b4a52" textLength="28.6" lengthAdjust="spacingAndGlyphs">12:00</text>
<rect x="177" y="569.5" width="110.6" height="13.2" fill="#263238"/>
<text x="232.3" y="579.8" font-size="10" fill="#fff" text-anchor="middle">30.07.2018 00:00</text>
<rect x="443" y="569.5" width="110.6" height="13.2" fill="#263238"/>
<text x="498.3" y="579.8" font-size="10" fill="#fff" text-anchor="middle">06.08.2018 00:00</text>
<rect x="708.3" y="569.5" width="110.6" height="13.2" fill="#263238"/>
<text x="763.5999999999999" y="579.8" font-size="10" fill="#fff" text-anchor="middle">13.08.2018 00:00</text>
<text y="567" font-size="14" fill="#ff9a1e"><tspan x="813.6">03</tspan><tspan x="830.4" fill="#b4bec4">h</tspan><tspan x="843.1" stroke="#ff9a1e" stroke-width="0.45">44</tspan><tspan x="859.5" fill="#b4bec4">m</tspan></text>
<text x="14" y="23" font-size="10.5" font-weight="bold" fill="#3b4a52" textLength="47.2" lengthAdjust="spacingAndGlyphs">LITECOIN</text>
<text x="74" y="22.2" font-size="8.2" font-weight="bold" fill="#8aa0ad" textLength="14.9" lengthAdjust="spacingAndGlyphs">CRT</text>
<path d="M96.9 17.9H105L100.95 22Z" fill="#bcc0c2"/>
<text x="121.6" y="23" font-size="11" fill="#55656e">H4</text>
<path d="M147.8 19.1H155.9L151.85 23.1Z" fill="#bcc0c2"/>
<g shape-rendering="crispEdges"><rect x="6" y="556" width="10" height="6" fill="#b4b4b4"/><rect x="13" y="557" width="2" height="1" fill="#fff"/><rect x="11" y="560" width="4" height="1" fill="#fff"/><rect x="6" y="563" width="10" height="2" fill="#b4b4b4"/></g>
<path d="M20.75 557.85L26.95 564.05M26.95 557.85L20.75 564.05" stroke="#bbbbbb" stroke-width="2.4" fill="none"/>
<text x="31.8" y="564.9" font-size="9.8" fill="#6f6f6f" xml:space="preserve" textLength="47.3" lengthAdjust="spacingAndGlyphs">EMA  [8,  0]</text>
<g shape-rendering="crispEdges"><rect x="6" y="570" width="10" height="6" fill="#b4b4b4"/><rect x="13" y="571" width="2" height="1" fill="#fff"/><rect x="11" y="574" width="4" height="1" fill="#fff"/><rect x="6" y="577" width="10" height="2" fill="#b4b4b4"/></g>
<path d="M20.75 572.05L26.95 578.25M26.95 572.05L20.75 578.25" stroke="#bbbbbb" stroke-width="2.4" fill="none"/>
<text x="31.8" y="579.1" font-size="9.8" fill="#6f6f6f" xml:space="preserve" textLength="53.3" lengthAdjust="spacingAndGlyphs">EMA  [33,  0]</text>
</svg></div></body></html>
